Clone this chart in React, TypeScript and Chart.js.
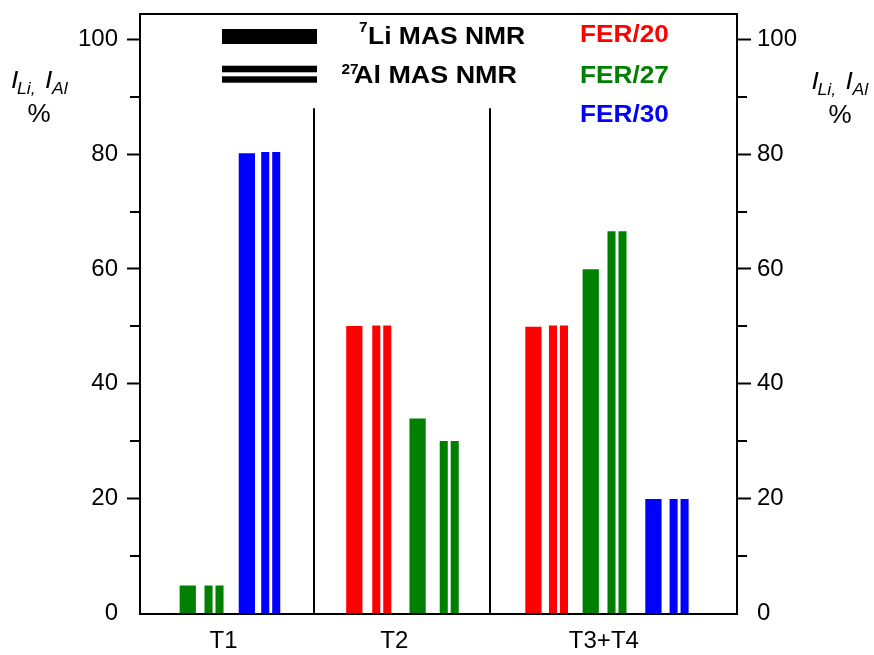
import React, { useEffect, useRef } from "react";
import { Chart, registerables } from "chart.js";

Chart.register(...registerables);

// ---- data ----
const categories = ["T1", "T2", "T3+T4"];
const categoryPos = [1.4, 4.26, 7.77];
const dividerPos = [2.915, 5.863];
const dividerTop = 88;

const samples = ["FER/20", "FER/27", "FER/30"];
const sampleColors = ["#FF0000", "#008000", "#0000FF"];

// 7Li MAS NMR intensities (solid bars), per category
const li20 = [null, 50.0, 49.9];
const li27 = [4.8, 33.9, 59.9];
const li30 = [80.1, null, 19.9];
// 27Al MAS NMR intensities (double bars), per category
const al20 = [null, 50.1, 50.1];
const al27 = [4.8, 30.0, 66.5];
const al30 = [80.3, null, 19.9];

// x positions (axis units) of the bars
const liX20 = [null, 3.59, 6.59];
const liX27 = [0.8, 4.65, 7.55];
const liX30 = [1.79, null, 8.6];
const alX20 = [null, 4.05, 7.01];
const alX27 = [1.24, 5.18, 7.99];
const alX30 = [2.19, null, 9.03];

const yTicksMajor = [0, 20, 40, 60, 80, 100];
const yTicksMinor = [10, 30, 50, 70, 90];

const PAIR_HALF = 0.092;
const FONT = "'Liberation Sans', Arial, sans-serif";

type Pt = { x: number; y: number };
function points(xs: (number | null)[], ys: (number | null)[], dx = 0): Pt[] {
  const out: Pt[] = [];
  for (let i = 0; i < ys.length; i++) {
    const xv = xs[i];
    const yv = ys[i];
    if (xv != null && yv != null) out.push({ x: xv + dx, y: yv });
  }
  return out;
}

function stretched(ctx: CanvasRenderingContext2D, text: string, x: number, y: number, font: string, color: string, sx: number, align: "left" | "center" = "left") {
  ctx.save();
  ctx.font = font;
  ctx.fillStyle = color;
  ctx.textBaseline = "alphabetic";
  ctx.textAlign = align;
  ctx.translate(x, y);
  ctx.scale(sx, 1);
  ctx.fillText(text, 0, 0);
  const w = ctx.measureText(text).width * sx;
  ctx.restore();
  return w;
}

function drawYTitle(ctx: CanvasRenderingContext2D, ox: number, oy: number) {
  const big = `italic 24px ${FONT}`;
  const sub = `italic 16px ${FONT}`;
  stretched(ctx, "I", ox + 11, oy + 88, big, "#000", 1.1);
  stretched(ctx, "Li,", ox + 17, oy + 93.5, sub, "#000", 1.1);
  stretched(ctx, "I", ox + 45, oy + 88, big, "#000", 1.1);
  stretched(ctx, "Al", ox + 52, oy + 93.5, sub, "#000", 1.1);
}

const decorPlugin = {
  id: "decor",
  afterDraw(chart: any) {
    const { ctx, chartArea, scales } = chart;
    const xs = scales.x;
    const ys = scales.y;
    ctx.save();
    ctx.strokeStyle = "#000";
    ctx.lineWidth = 2;
    // top frame
    ctx.beginPath();
    ctx.moveTo(chartArea.left - 1, chartArea.top);
    ctx.lineTo(chartArea.right + 1, chartArea.top);
    ctx.stroke();
    // dividers
    for (const d of dividerPos) {
      const px = Math.round(xs.getPixelForValue(d));
      ctx.beginPath();
      ctx.moveTo(px, ys.getPixelForValue(dividerTop));
      ctx.lineTo(px, ys.getPixelForValue(0));
      ctx.stroke();
    }
    // minor ticks
    for (const v of yTicksMinor) {
      const py = Math.round(ys.getPixelForValue(v));
      ctx.beginPath();
      ctx.moveTo(chartArea.left - 10, py);
      ctx.lineTo(chartArea.left, py);
      ctx.moveTo(chartArea.right, py);
      ctx.lineTo(chartArea.right + 10, py);
      ctx.stroke();
    }
    ctx.restore();

    // legend symbols
    ctx.save();
    ctx.fillStyle = "#000";
    ctx.fillRect(222, 29, 95, 15);
    ctx.fillRect(222, 65.7, 95, 6.6);
    ctx.fillRect(222, 76.3, 95, 6.4);
    ctx.restore();

    const bold = `bold 23px ${FONT}`;
    const supB = `bold 14px ${FONT}`;
    stretched(ctx, "7", 359, 32, supB, "#000", 1.1);
    stretched(ctx, "Li MAS NMR", 368, 43.5, bold, "#000", 1.15);
    stretched(ctx, "27", 341.5, 74, supB, "#000", 1.1);
    stretched(ctx, "Al MAS NMR", 354, 83, bold, "#000", 1.17);

    const rows = [41.7, 82.5, 122];
    samples.forEach((s, i) => {
      stretched(ctx, s, 580, rows[i], bold, sampleColors[i], 1.14);
    });

    // axis titles
    drawYTitle(ctx, 0, 0);
    drawYTitle(ctx, 800.5, 1);
    const pct = `26px ${FONT}`;
    stretched(ctx, "%", 39, 121.5, pct, "#000", 1.0, "center");
    stretched(ctx, "%", 840, 122.5, pct, "#000", 1.0, "center");
  },
};

export default function App() {
  const ref = useRef<HTMLCanvasElement | null>(null);

  useEffect(() => {
    if (!ref.current) return;
    const series = [
      { color: sampleColors[0], liX: liX20, li: li20, alX: alX20, al: al20 },
      { color: sampleColors[1], liX: liX27, li: li27, alX: alX27, al: al27 },
      { color: sampleColors[2], liX: liX30, li: li30, alX: alX30, al: al30 },
    ];
    const datasets: any[] = [];
    series.forEach((s, i) => {
      datasets.push({
        label: samples[i] + " 7Li",
        data: points(s.liX, s.li),
        backgroundColor: s.color,
        barThickness: 15.6,
        grouped: false,
        borderWidth: 0,
      });
      datasets.push({
        label: samples[i] + " 27Al a",
        data: points(s.alX, s.al, -PAIR_HALF),
        backgroundColor: s.color,
        barThickness: 7.4,
        grouped: false,
        borderWidth: 0,
      });
      datasets.push({
        label: samples[i] + " 27Al b",
        data: points(s.alX, s.al, PAIR_HALF),
        backgroundColor: s.color,
        barThickness: 7.4,
        grouped: false,
        borderWidth: 0,
      });
    });

    const tickFont = { family: FONT, size: 24 };
    const hideZero = (c: any) => (c.tick && c.tick.value === 0 ? "rgba(0,0,0,0)" : "#000");
    const noPadV = (s: any) => {
      s.paddingTop = 0;
      s.paddingBottom = 0;
    };

    const chart = new Chart(ref.current, {
      type: "bar",
      data: { datasets },
      options: {
        animation: false,
        responsive: false,
        events: [],
        layout: { padding: { top: 14, left: 0, right: 0, bottom: 0 } },
        plugins: { legend: { display: false }, tooltip: { enabled: false } },
        scales: {
          x: {
            type: "linear",
            min: 0,
            max: 10,
            offset: false,
            grid: { display: false, drawTicks: false, offset: false },
            border: { display: true, color: "#000", width: 2 },
            ticks: {
              autoSkip: false,
              maxRotation: 0,
              color: "#000",
              font: tickFont,
              padding: 13,
              callback: (_v: any, i: number) => categories[i],
            },
            afterBuildTicks: (s: any) => {
              s.ticks = categoryPos.map((v) => ({ value: v }));
            },
            afterFit: (s: any) => {
              s.height = 41.5;
              s.paddingLeft = 0;
              s.paddingRight = 0;
            },
          },
          y: {
            type: "linear",
            position: "left",
            min: 0,
            max: 104.4,
            grid: { drawOnChartArea: false, tickLength: 13, tickWidth: 2, tickColor: hideZero },
            border: { display: true, color: "#000", width: 2 },
            ticks: { stepSize: 20, includeBounds: false, color: "#000", font: tickFont, padding: 9 },
            afterBuildTicks: (s: any) => {
              s.ticks = yTicksMajor.map((v) => ({ value: v }));
            },
            afterFit: (s: any) => {
              s.width = 140;
              noPadV(s);
            },
          },
          y2: {
            type: "linear",
            position: "right",
            min: 0,
            max: 104.4,
            grid: { drawOnChartArea: false, tickLength: 14, tickWidth: 2, tickColor: hideZero },
            border: { display: true, color: "#000", width: 2 },
            ticks: { stepSize: 20, includeBounds: false, color: "#000", font: tickFont, padding: 6 },
            afterBuildTicks: (s: any) => {
              s.ticks = yTicksMajor.map((v) => ({ value: v }));
            },
            afterFit: (s: any) => {
              s.width = 137;
              noPadV(s);
            },
          },
        },
      } as any,
      plugins: [decorPlugin],
    });
    return () => chart.destroy();
  }, []);

  return (
    <div style={{ position: "fixed", left: 0, top: 0, width: 874, height: 655, background: "#fff" }}>
      <canvas ref={ref} width={874} height={655} style={{ width: 874, height: 655, display: "block" }} />
    </div>
  );
}
